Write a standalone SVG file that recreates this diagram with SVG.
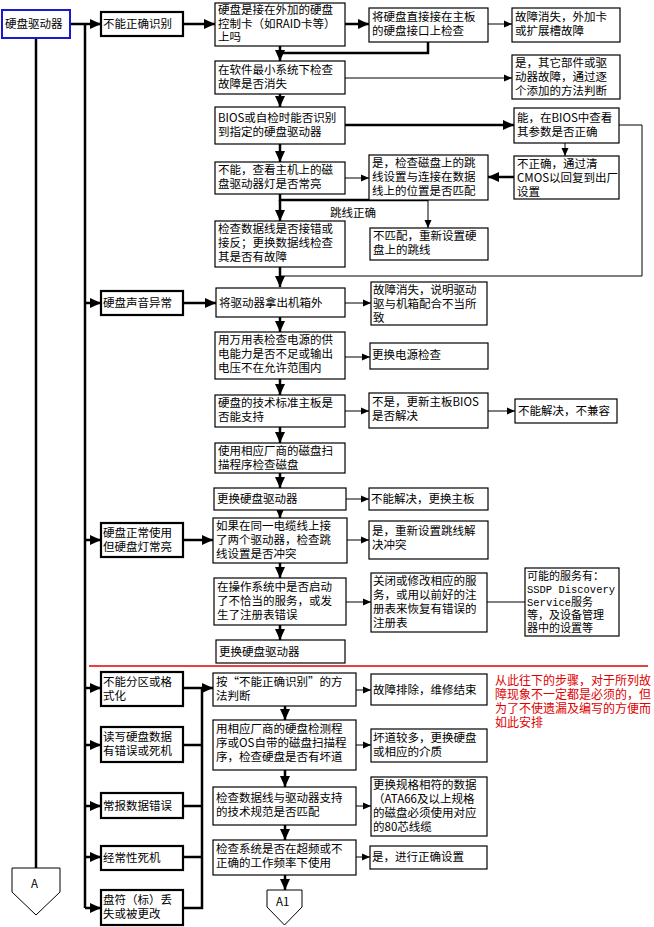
<svg xmlns="http://www.w3.org/2000/svg" width="654" height="927" viewBox="0 0 654 927">
<style>
text{font-family:"Noto Sans CJK SC","Liberation Sans",sans-serif;font-size:11.5px;fill:#000}
.b rect{fill:#fff;stroke:#000;stroke-width:1.2}
.k rect{fill:#fff;stroke:#000;stroke-width:2.2}
.c line,.c polyline{stroke:#000;fill:none}
.c .t{stroke-width:2.5}
.c .n{stroke-width:1}
.red{fill:#e00000;font-size:12px}
.mono{font-family:"Liberation Mono",monospace;font-size:10.5px}
</style>
<defs>
<marker id="big" markerUnits="userSpaceOnUse" markerWidth="12" markerHeight="12" refX="11" refY="6" orient="auto"><path d="M0,1 L11,6 L0,11 Z" fill="#000"/></marker>
<marker id="sm" markerUnits="userSpaceOnUse" markerWidth="9" markerHeight="9" refX="8" refY="4.5" orient="auto"><path d="M0,1 L8,4.5 L0,8 Z" fill="#000"/></marker>
</defs>
<g class="c" id="connectors">
<polyline class="t" points="36,38 36,868"/>
<polyline class="t" points="85,24 85,908"/>
<line class="t" x1="70" y1="24" x2="101" y2="24" marker-end="url(#big)"/>
<line class="t" x1="85" y1="303" x2="101" y2="303" marker-end="url(#big)"/>
<line class="t" x1="85" y1="540" x2="101" y2="540" marker-end="url(#big)"/>
<line class="t" x1="85" y1="688" x2="101" y2="688" marker-end="url(#big)"/>
<line class="t" x1="85" y1="745" x2="101" y2="745" marker-end="url(#big)"/>
<line class="t" x1="85" y1="806" x2="101" y2="806" marker-end="url(#big)"/>
<line class="t" x1="85" y1="857" x2="101" y2="857" marker-end="url(#big)"/>
<line class="t" x1="85" y1="908" x2="101" y2="908" marker-end="url(#big)"/>
<line class="t" x1="183" y1="24" x2="215" y2="24" marker-end="url(#big)"/>
<line class="t" x1="183" y1="303" x2="216" y2="303" marker-end="url(#big)"/>
<line class="t" x1="183" y1="540" x2="213" y2="540" marker-end="url(#big)"/>
<line class="t" x1="345" y1="24" x2="369" y2="24" marker-end="url(#big)"/>
<line class="n" x1="488" y1="24" x2="512" y2="24" marker-end="url(#sm)"/>
<polyline class="t" points="428,42 428,53 280,53"/>
<line class="t" x1="280" y1="46" x2="280" y2="61" marker-end="url(#big)"/>
<line class="n" x1="345" y1="78" x2="512" y2="78" marker-end="url(#sm)"/>
<line class="t" x1="280" y1="94" x2="280" y2="107" marker-end="url(#big)"/>
<line class="t" x1="345" y1="125" x2="514" y2="125" marker-end="url(#big)"/>
<line class="t" x1="280" y1="144" x2="280" y2="162" marker-end="url(#big)"/>
<line class="n" x1="565" y1="143" x2="565" y2="156" marker-end="url(#sm)"/>
<line class="t" x1="514" y1="177" x2="488" y2="177" marker-end="url(#big)"/>
<line class="n" x1="345" y1="178" x2="369" y2="178" marker-end="url(#sm)"/>
<polyline class="t" points="280,194 280,200 428,200"/>
<line class="n" x1="428" y1="200" x2="428" y2="228" marker-end="url(#sm)"/>
<line class="t" x1="280" y1="200" x2="280" y2="221" marker-end="url(#big)"/>
<polyline class="n" points="619,125 642,125 642,276 280,276"/>
<line class="t" x1="280" y1="267" x2="280" y2="287" marker-end="url(#big)"/>
<line class="n" x1="345" y1="303" x2="371" y2="303" marker-end="url(#sm)"/>
<line class="t" x1="280" y1="317" x2="280" y2="332" marker-end="url(#big)"/>
<line class="n" x1="345" y1="357" x2="370" y2="357" marker-end="url(#sm)"/>
<line class="t" x1="280" y1="379" x2="280" y2="395" marker-end="url(#big)"/>
<line class="n" x1="345" y1="411" x2="369" y2="411" marker-end="url(#sm)"/>
<line class="n" x1="488" y1="411" x2="515" y2="411" marker-end="url(#sm)"/>
<line class="t" x1="280" y1="427" x2="280" y2="443" marker-end="url(#big)"/>
<line class="t" x1="280" y1="473" x2="280" y2="488" marker-end="url(#big)"/>
<line class="n" x1="346" y1="499" x2="369" y2="499" marker-end="url(#sm)"/>
<line class="t" x1="280" y1="510" x2="280" y2="518" marker-end="url(#big)"/>
<line class="n" x1="347" y1="540" x2="369" y2="540" marker-end="url(#sm)"/>
<line class="t" x1="280" y1="563" x2="280" y2="578" marker-end="url(#big)"/>
<line class="n" x1="346" y1="602" x2="371" y2="602" marker-end="url(#sm)"/>
<line class="n" x1="487" y1="602" x2="525" y2="602"/>
<line class="t" x1="280" y1="625" x2="280" y2="640" marker-end="url(#big)"/>
<polyline class="t" points="183,688 202,688"/>
<polyline class="t" points="183,745 202,745"/>
<polyline class="t" points="183,806 202,806"/>
<polyline class="t" points="183,857 202,857"/>
<polyline class="t" points="183,908 202,908 202,688"/>
<line class="t" x1="202" y1="688" x2="213" y2="688" marker-end="url(#big)"/>
<line class="n" x1="356" y1="690" x2="371" y2="690" marker-end="url(#sm)"/>
<line class="t" x1="285" y1="706" x2="285" y2="720" marker-end="url(#big)"/>
<line class="n" x1="356" y1="745" x2="371" y2="745" marker-end="url(#sm)"/>
<line class="t" x1="285" y1="770" x2="285" y2="787" marker-end="url(#big)"/>
<line class="n" x1="356" y1="806" x2="371" y2="806" marker-end="url(#sm)"/>
<line class="t" x1="285" y1="825" x2="285" y2="840" marker-end="url(#big)"/>
<line class="n" x1="356" y1="857" x2="370" y2="857" marker-end="url(#sm)"/>
<line class="t" x1="285" y1="875" x2="285" y2="890" marker-end="url(#big)"/>
</g>
<line id="divider" x1="89" y1="666" x2="648" y2="666" stroke="#e00000" stroke-width="1.5"/>
<g id="root"><rect x="2" y="10" width="68" height="28" fill="#fff" stroke="#1a1acc" stroke-width="2"/><text x="5" y="28">硬盘驱动器</text></g>
<g id="A"><path d="M12,868 H60 V892 L36,915 L12,892 Z" fill="#fff" stroke="#000"/><text x="31" y="888">A</text></g>
<g id="A1"><path d="M267,890 H302 V907 L284.5,925 L267,907 Z" fill="#fff" stroke="#000"/><text x="276" y="906">A1</text></g>
<g id="f1" class="k"><rect x="101" y="12" width="82" height="24"/><text x="103" y="28">不能正确识别</text></g>
<g id="f2" class="k"><rect x="101" y="291" width="82" height="24"/><text x="103" y="307">硬盘声音异常</text></g>
<g id="f3" class="k"><rect x="101" y="523" width="82" height="34"/><text x="103" y="537">硬盘正常使用<tspan x="103" dy="14">但硬盘灯常亮</tspan></text></g>
<g id="f4" class="k"><rect x="101" y="672" width="82" height="34"/><text x="103" y="686">不能分区或格<tspan x="103" dy="14">式化</tspan></text></g>
<g id="f5" class="k"><rect x="101" y="727" width="82" height="35"/><text x="103" y="741">读写硬盘数据<tspan x="103" dy="14">有错误或死机</tspan></text></g>
<g id="f6" class="k"><rect x="101" y="793" width="82" height="25"/><text x="103" y="810">常报数据错误</text></g>
<g id="f7" class="k"><rect x="101" y="846" width="82" height="24"/><text x="103" y="862">经常性死机</text></g>
<g id="f8" class="k"><rect x="101" y="890" width="82" height="35"/><text x="103" y="904">盘符（标）丢<tspan x="103" dy="14">失或被更改</tspan></text></g>
<g id="n1" class="b"><rect x="215" y="3" width="130" height="43"/><text x="218" y="14">硬盘是接在外加的硬盘<tspan x="218" dy="14">控制卡（如RAID卡等）</tspan><tspan x="218" dy="13">上吗</tspan></text></g>
<g id="n2" class="b"><rect x="369" y="8" width="119" height="34"/><text x="372" y="21">将硬盘直接接在主板<tspan x="372" dy="14">的硬盘接口上检查</tspan></text></g>
<g id="n3" class="b"><rect x="512" y="8" width="108" height="34"/><text x="515" y="21">故障消失，外加卡<tspan x="515" dy="14">或扩展槽故障</tspan></text></g>
<g id="n4" class="b"><rect x="215" y="61" width="130" height="33"/><text x="218" y="74">在软件最小系统下检查<tspan x="218" dy="14">故障是否消失</tspan></text></g>
<g id="n5" class="b"><rect x="512" y="55" width="108" height="44"/><text x="515" y="67">是，其它部件或驱<tspan x="515" dy="14">动器故障，通过逐</tspan><tspan x="515" dy="14">个添加的方法判断</tspan></text></g>
<g id="n6" class="b"><rect x="215" y="107" width="130" height="37"/><text x="218" y="122">BIOS或自检时能否识别<tspan x="218" dy="14">到指定的硬盘驱动器</tspan></text></g>
<g id="n7" class="b"><rect x="514" y="108" width="105" height="35"/><text x="517" y="122">能，在BIOS中查看<tspan x="517" dy="14">其参数是否正确</tspan></text></g>
<g id="n8" class="b"><rect x="514" y="156" width="105" height="43"/><text x="517" y="168">不正确，通过清<tspan x="517" dy="14">CMOS以回复到出厂</tspan><tspan x="517" dy="14">设置</tspan></text></g>
<g id="n9" class="b"><rect x="215" y="162" width="130" height="32"/><text x="218" y="174">不能，查看主机上的磁<tspan x="218" dy="14">盘驱动器灯是否常亮</tspan></text></g>
<g id="n10" class="b"><rect x="369" y="155" width="119" height="45"/><text x="372" y="167">是，检查磁盘上的跳<tspan x="372" dy="14">线设置与连接在数据</tspan><tspan x="372" dy="14">线上的位置是否匹配</tspan></text></g>
<g id="lbl"><text x="330" y="217">跳线正确</text></g>
<g id="n11" class="b"><rect x="370" y="228" width="118" height="32"/><text x="373" y="240">不匹配，重新设置硬<tspan x="373" dy="14">盘上的跳线</tspan></text></g>
<g id="n12" class="b"><rect x="215" y="221" width="130" height="46"/><text x="218" y="233">检查数据线是否接错或<tspan x="218" dy="14">接反；更换数据线检查</tspan><tspan x="218" dy="14">其是否有故障</tspan></text></g>
<g id="n13" class="b"><rect x="216" y="288" width="129" height="29"/><text x="219" y="307">将驱动器拿出机箱外</text></g>
<g id="n14" class="b"><rect x="371" y="282" width="116" height="43"/><text x="373" y="294">故障消失，说明驱动<tspan x="373" dy="14">驱与机箱配合不当所</tspan><tspan x="373" dy="14">致</tspan></text></g>
<g id="n15" class="b"><rect x="215" y="332" width="130" height="47"/><text x="218" y="344">用万用表检查电源的供<tspan x="218" dy="14">电能力是否不足或输出</tspan><tspan x="218" dy="14">电压不在允许范围内</tspan></text></g>
<g id="n16" class="b"><rect x="370" y="343" width="118" height="26"/><text x="372" y="359">更换电源检查</text></g>
<g id="n17" class="b"><rect x="215" y="395" width="130" height="32"/><text x="218" y="407">硬盘的技术标准主板是<tspan x="218" dy="14">否能支持</tspan></text></g>
<g id="n18" class="b"><rect x="369" y="393" width="119" height="35"/><text x="372" y="406">不是，更新主板BIOS<tspan x="372" dy="14">是否解决</tspan></text></g>
<g id="n19" class="b"><rect x="515" y="399" width="102" height="24"/><text x="518" y="415">不能解决，不兼容</text></g>
<g id="n20" class="b"><rect x="215" y="443" width="130" height="30"/><text x="218" y="455">使用相应厂商的磁盘扫<tspan x="218" dy="14">描程序检查磁盘</tspan></text></g>
<g id="n21" class="b"><rect x="214" y="488" width="132" height="22"/><text x="217" y="503">更换硬盘驱动器</text></g>
<g id="n22" class="b"><rect x="369" y="488" width="119" height="22"/><text x="371" y="503">不能解决，更换主板</text></g>
<g id="n23" class="b"><rect x="213" y="518" width="134" height="45"/><text x="216" y="530">如果在同一电缆线上接<tspan x="216" dy="14">了两个驱动器，检查跳</tspan><tspan x="216" dy="14">线设置是否冲突</tspan></text></g>
<g id="n24" class="b"><rect x="369" y="521" width="119" height="38"/><text x="372" y="535">是，重新设置跳线解<tspan x="372" dy="14">决冲突</tspan></text></g>
<g id="n25" class="b"><rect x="214" y="578" width="132" height="47"/><text x="217" y="591">在操作系统中是否启动<tspan x="217" dy="14">了不恰当的服务，或发</tspan><tspan x="217" dy="14">生了注册表错误</tspan></text></g>
<g id="n26" class="b"><rect x="371" y="573" width="116" height="59"/><text x="373" y="585">关闭或修改相应的服<tspan x="373" dy="14">务，或用以前好的注</tspan><tspan x="373" dy="14">册表来恢复有错误的</tspan><tspan x="373" dy="14">注册表</tspan></text></g>
<g id="n27" class="b"><rect x="525" y="568" width="94" height="68"/><text x="527" y="580" style="font-size:11px">可能的服务有：</text><text x="527" y="593" class="mono" textLength="88" lengthAdjust="spacingAndGlyphs">SSDP Discovery</text><text x="527" y="606" style="font-size:11px"><tspan class="mono">Service</tspan>服务</text><text x="527" y="619" style="font-size:11px">等，及设备管理</text><text x="527" y="632" style="font-size:11px">器中的设置等</text></g>
<g id="n28" class="b"><rect x="216" y="640" width="129" height="23"/><text x="219" y="656">更换硬盘驱动器</text></g>
<g id="n29" class="b"><rect x="213" y="673" width="143" height="33"/><text x="216" y="686">按“不能正确识别”的方<tspan x="216" dy="14">法判断</tspan></text></g>
<g id="n30" class="b"><rect x="371" y="674" width="116" height="31"/><text x="373" y="694">故障排除，维修结束</text></g>
<g id="n31" class="b"><rect x="213" y="720" width="143" height="50"/><text x="216" y="733">用相应厂商的硬盘检测程<tspan x="216" dy="14">序或OS自带的磁盘扫描程</tspan><tspan x="216" dy="14">序，检查硬盘是否有坏道</tspan></text></g>
<g id="n32" class="b"><rect x="371" y="729" width="116" height="33"/><text x="373" y="742">坏道较多，更换硬盘<tspan x="373" dy="14">或相应的介质</tspan></text></g>
<g id="n33" class="b"><rect x="213" y="787" width="143" height="38"/><text x="216" y="802">检查数据线与驱动器支持<tspan x="216" dy="14">的技术规范是否匹配</tspan></text></g>
<g id="n34" class="b"><rect x="371" y="777" width="116" height="59"/><text x="373" y="789">更换规格相符的数据<tspan x="373" dy="14">（ATA66及以上规格</tspan><tspan x="373" dy="14">的磁盘必须使用对应</tspan><tspan x="373" dy="14">的80芯线缆</tspan></text></g>
<g id="n35" class="b"><rect x="213" y="840" width="143" height="35"/><text x="216" y="853">检查系统是否在超频或不<tspan x="216" dy="14">正确的工作频率下使用</tspan></text></g>
<g id="n36" class="b"><rect x="370" y="846" width="117" height="23"/><text x="372" y="861">是，进行正确设置</text></g>
<g id="note"><text class="red" x="495" y="685">从此往下的步骤，对于所列故<tspan x="495" dy="14">障现象不一定都是必须的，但</tspan><tspan x="495" dy="14">为了不使遗漏及编写的方便而</tspan><tspan x="495" dy="14">如此安排</tspan></text></g>
</svg>
